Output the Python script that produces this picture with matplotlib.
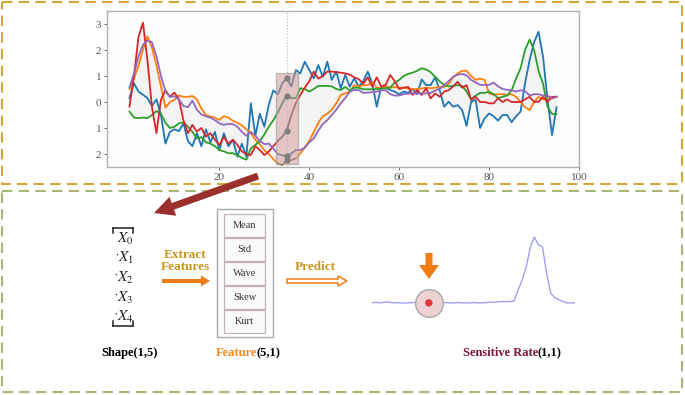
"""Sensitive-rate pipeline figure: raw channels, feature extraction, prediction."""
import matplotlib

matplotlib.use("Agg")
import matplotlib.pyplot as plt
import numpy as np
from matplotlib.patches import FancyArrow, Rectangle

plt.rcParams["font.family"] = ["Liberation Serif", "DejaVu Serif"]
plt.rcParams["mathtext.fontset"] = "stix"

# ---- data ------------------------------------------------------------------
blue = [0.15, 0.72, 0.40, 0.28, 0.15, -0.15, 0.10, -0.50, -1.60, -1.15,
        -1.05, -1.12, -0.82, -1.50, -1.70, -1.20, -1.70, -1.05, -1.55, -1.15,
        -1.85, -1.20, -1.70, -1.46, -2.10, -1.60, -2.10, -0.05, -1.30, -0.45,
        -0.95, -0.10, 0.45, 0.30, 0.72, 0.91, 0.60, 1.23, 1.10, 1.55,
        1.23, 0.91, 1.42, 0.97, 1.55, 0.85, 1.17, 0.53, 1.04, 0.59,
        0.91, 0.59, 0.80, 1.17, 0.72, -0.18, 0.59, 0.55, 0.46, 0.40,
        0.30, 0.40, 0.35, 0.50, 0.30, 0.87, 0.65, 0.65, 0.95, 0.46,
        -0.18, 0.01, -0.18, -0.12, -0.31, -0.92, 0.01, 0.08, -1.00, -0.63,
        -0.44, -0.55, -0.72, -0.50, -0.50, -0.78, -0.55, -0.37, 0.72, 1.60,
        2.30, 2.70, 1.74, 0.08, -1.27, -0.20]
orange = [0.49, 0.90, 1.40, 2.00, 2.52, 2.10, 1.40, 0.60, -0.22, 0.00,
          0.08, 0.25, 0.20, 0.20, 0.23, 0.10, -0.25, -0.50, -0.56, -0.60,
          -0.69, -0.54, -0.60, -0.72, -0.80, -0.90, -1.05, -1.20, -1.45, -1.62,
          -1.85, -2.00, -2.20, -2.36, -2.43, -2.23, -2.23, -2.17, -1.98, -1.75,
          -1.50, -1.15, -0.80, -0.55, -0.45, -0.30, -0.05, 0.27, 0.33, 0.40,
          0.65, 0.60, 0.65, 0.65, 0.75, 0.55, 0.53, 0.60, 0.56, 0.57,
          0.55, 0.55, 0.52, 0.50, 0.50, 0.52, 0.55, 0.53, 0.55, 0.58,
          0.58, 0.70, 0.95, 1.10, 1.20, 1.20, 1.00, 0.85, 0.90, 0.85,
          0.33, 0.28, 0.30, 0.30, 0.27, 0.30, 0.20, 0.00, -0.20, -0.31,
          0.00, 0.20, 0.10, 0.15, 0.14, 0.20]
green = [-0.37, -0.60, -0.62, -0.60, -0.62, -0.50, -0.35, -0.45, -0.80, -1.00,
         -0.95, -0.82, -0.78, -0.95, -1.15, -1.40, -1.35, -1.55, -1.60, -1.70,
         -1.85, -1.90, -1.97, -1.97, -2.05, -2.15, -2.22, -1.78, -1.65, -1.50,
         -1.25, -0.95, -0.70, -0.40, -0.05, 0.25, 0.15, 0.15, 0.53, 0.50,
         0.40, 0.50, 0.62, 0.62, 0.62, 0.60, 0.50, 0.46, 0.58, 0.45,
         0.55, 0.55, 0.49, 0.49, 0.49, 0.50, 0.52, 0.53, 0.55, 0.75,
         0.85, 1.00, 1.08, 1.13, 1.20, 1.30, 1.25, 1.15, 0.97, 0.80,
         0.65, 0.60, 0.62, 0.65, 0.62, 0.40, 0.10, 0.25, 0.35, 0.35,
         0.40, 0.30, 0.15, 0.20, 0.25, 0.45, 0.90, 1.30, 2.00, 2.40,
         2.00, 1.20, 0.70, -0.18, -0.46, -0.47]
red = [-0.18, 1.00, 2.50, 3.05, 1.60, -0.20, -1.20, 0.08, 0.45, 0.20,
       0.36, 0.10, -0.70, -1.20, -0.88, -1.14, -1.00, -1.33, -1.20, -1.45,
       -1.65, -1.35, -1.60, -1.45, -1.65, -1.90, -2.00, -2.04, -1.70, -1.85,
       -2.04, -1.90, -1.70, -1.50, -1.33, -1.10, -0.50, -0.05, 0.27, 0.55,
       0.80, 1.17, 0.90, 1.00, 1.17, 1.17, 1.15, 1.13, 1.10, 1.05,
       0.95, 0.88, 0.70, 0.95, 0.60, 0.95, 0.60, 0.66, 1.04, 0.80,
       0.50, 0.55, 0.58, 0.27, 0.45, 0.27, 0.53, 0.14, 0.33, 0.20,
       0.40, 0.45, 0.60, 0.78, 0.55, 0.65, 0.08, 0.20, 0.00, 0.00,
       -0.05, -0.05, 0.15, 0.00, 0.10, 0.00, 0.00, 0.00, 0.10, 0.20,
       0.00, 0.01, 0.20, 0.00, 0.20, 0.20]
purple = [0.56, 1.10, 1.75, 2.20, 2.36, 2.30, 1.75, 1.00, 0.40, 0.20,
          0.22, 0.10, -0.15, -0.20, 0.05, -0.30, -0.48, -0.55, -0.60, -0.70,
          -0.82, -0.88, -0.84, -0.85, -0.95, -1.15, -1.30, -1.15, -1.30, -1.50,
          -1.62, -1.60, -1.80, -2.00, -2.05, -2.08, -1.98, -1.85, -1.85, -1.75,
          -1.55, -1.40, -1.10, -0.85, -0.70, -0.50, -0.30, -0.05, 0.15, 0.40,
          0.46, 0.46, 0.35, 0.36, 0.38, 0.40, 0.45, 0.45, 0.30, 0.25,
          0.25, 0.30, 0.32, 0.33, 0.33, 0.33, 0.33, 0.35, 0.44, 0.50,
          0.65, 0.80, 0.97, 1.05, 1.08, 1.02, 0.85, 0.75, 0.66, 0.65,
          0.66, 0.75, 0.60, 0.50, 0.47, 0.45, 0.40, 0.45, 0.42, 0.25,
          0.30, 0.30, 0.25, 0.25, 0.14, 0.20]
series = [blue, orange, green, red, purple]
series_colors = ["#1f77b4", "#ff7f0e", "#2ca02c", "#d62728", "#9467bd"]

ytick_vals = [3, 2, 1, 0, -1, -2]
ytick_text = ["3", "2", "1", "0", "1", "2"]
xtick_vals = [20, 40, 60, 80, 100]

window = (32.6, 37.6)      # highlighted sliding window
window_y = (-2.38, 1.12)
probe = 35                 # sampled time step

vector_rows = [r"$X_{0}$", r"$^{,}X_{1}$", r"$^{,}X_{2}$", r"$^{,}X_{3}$",
               r"$^{,}X_{4}$"]
features = ["Mean", "Std", "Wave", "Skew", "Kurt"]

sens_x = np.arange(0, 101, 2)
sens_y = [0.0, 0.01, 0.0, 0.01, 0.015, 0.0, 0.005, 0.0, -0.005, 0.0,
          0.005, 0.01, 0.0, 0.0, 0.0, 0.005, 0.0, 0.0, 0.005, 0.0,
          0.0, 0.005, 0.0, 0.0, 0.0, 0.005, 0.0, 0.0, 0.005, 0.01,
          0.01, 0.015, 0.02, 0.02, 0.02, 0.03, 0.2, 0.35, 0.55, 0.85,
          1.0, 0.88, 0.85, 0.45, 0.15, 0.08, 0.05, 0.02, 0.0, 0.0, 0.0]
sens_pick = 14

GOLD = "#d6a636"
OLIVE = "#a9b673"
DARKRED = "#9b2f2b"
ORANGE = "#ef7d14"
TXT_GOLD = "#c8961c"

# ---- figure ---------------------------------------------------------------
fig = plt.figure(figsize=(6.85, 3.95), dpi=100)
bg = fig.add_axes([0, 0, 1, 1])
bg.set_xlim(0, 685)
bg.set_ylim(395, 0)
bg.axis("off")

bg.add_patch(Rectangle((2, 2), 680, 182, fill=False, ec=GOLD, lw=1.5,
                       ls=(0, (5, 3))))
bg.add_patch(Rectangle((2, 191), 680, 201, fill=False, ec=OLIVE, lw=1.5,
                       ls=(0, (5, 3))))

# top chart
ax = fig.add_axes([107 / 685, 1 - 167 / 395, 472 / 685, 156 / 395])
ax.set_facecolor("#fdfdfd")
x = np.arange(len(blue))
arr = np.array(series)
ax.fill_between(x, arr.min(axis=0), arr.max(axis=0), color="#eeeeee",
                alpha=0.6, lw=0, zorder=1)
for vals, c in zip(series, series_colors):
    ax.plot(x, vals, color=c, lw=1.3, zorder=2)
ax.axvline(probe, color="#bbbbbb", lw=0.8, ls=":", zorder=1)
ax.add_patch(Rectangle((window[0], window_y[0]), window[1] - window[0],
                       window_y[1] - window_y[0], fc="#d9a6a6", ec="#999999",
                       lw=1.0, alpha=0.6, zorder=3))
sel = (x >= 33) & (x <= 37)
for vals in series:
    ax.plot(x[sel], np.array(vals)[sel], color="#8a8a8a", lw=1.2, alpha=0.8,
            zorder=4)
    ax.plot(probe, vals[probe], "o", color="#7f7f7f", ms=3.5, zorder=5)
ax.set_xlim(-5, 100)
ax.set_ylim(-2.5, 3.5)
ax.set_xticks(xtick_vals)
ax.set_yticks(ytick_vals)
ax.set_yticklabels(ytick_text)
ax.tick_params(labelsize=8, colors="#555555", length=2, width=0.6, pad=2)
for s in ax.spines.values():
    s.set_color("#b0b0b0")
    s.set_linewidth(1.0)

# big arrow from the chart window down to the vector
bg.add_patch(FancyArrow(258, 176, -104, 37, width=7, head_width=20,
                        head_length=20, length_includes_head=True,
                        color=DARKRED, lw=0, zorder=6))

# input vector
bk = dict(color="#222222", lw=1.1)
bg.plot([113, 133], [228, 228], **bk)
bg.plot([113, 113], [228, 233], **bk)
bg.plot([133, 133], [228, 233], **bk)
bg.plot([113, 133], [326, 326], **bk)
bg.plot([113, 113], [321, 326], **bk)
bg.plot([133, 133], [321, 326], **bk)
bg.text(114, 278, "\n".join(vector_rows), ha="left", va="center",
        fontsize=11, color="#222222", linespacing=1.3,
        multialignment="right")
bg.text(130, 353, "Shape(1,5)", ha="center", va="center", fontsize=9,
        fontweight="bold", color="black")

# extract features
bg.text(185, 261, "Extract\nFeatures", ha="center", va="center", fontsize=9.5,
        fontweight="bold", color=TXT_GOLD, linespacing=1.1)
bg.add_patch(FancyArrow(162, 281, 48, 0, width=4, head_width=11,
                        head_length=9, length_includes_head=True,
                        color=ORANGE, lw=0))

# feature stack
bg.add_patch(Rectangle((217, 209), 56, 128, fc="white", ec="#a8a8a8",
                       lw=1.0))
for i, name in enumerate(features):
    y0 = 214 + 24 * i
    bg.add_patch(Rectangle((224, y0), 41, 23, fc="#f8fafb", ec="#c4b4b4",
                           lw=0.9))
    bg.text(244.5, y0 + 11.5, name, ha="center", va="center", fontsize=7.5,
            color="#333333")
bg.text(257, 353, "Feature", ha="right", va="center", fontsize=9,
        fontweight="bold", color="#f28a22")
bg.text(257, 353, "(5,1)", ha="left", va="center", fontsize=9,
        fontweight="bold", color="black")

# predict
bg.text(315, 267, "Predict", ha="center", va="center", fontsize=9.5,
        fontweight="bold", color=TXT_GOLD)
bg.add_patch(FancyArrow(287, 281, 60, 0, width=4, head_width=10,
                        head_length=9, length_includes_head=True,
                        fc="white", ec=ORANGE, lw=1.1))

# sensitive rate curve
cx = fig.add_axes([372 / 685, 1 - 320 / 395, 203 / 685, 100 / 395])
cx.set_xlim(0, 100)
cx.set_ylim(-0.26, 1.26)
cx.axis("off")
cx.plot(sens_x, sens_y, color="#a0a0f2", lw=1.0, zorder=2)
cx.scatter([sens_x[sens_pick]], [sens_y[sens_pick]], s=400, fc="#ecd2d2",
           ec="#a9a9a9", lw=1.0, zorder=3)
cx.scatter([sens_x[sens_pick]], [sens_y[sens_pick]], s=28, fc="#e03434",
           ec="none", zorder=4)
bg.add_patch(FancyArrow(429, 253, 0, 26, width=7, head_width=20,
                        head_length=14, length_includes_head=True,
                        color=ORANGE, lw=0))
bg.text(538, 353, "Sensitive Rate", ha="right", va="center", fontsize=9,
        fontweight="bold", color="#7a1733")
bg.text(538, 353, "(1,1)", ha="left", va="center", fontsize=9,
        fontweight="bold", color="black")

fig.savefig("out.png", dpi=100)
